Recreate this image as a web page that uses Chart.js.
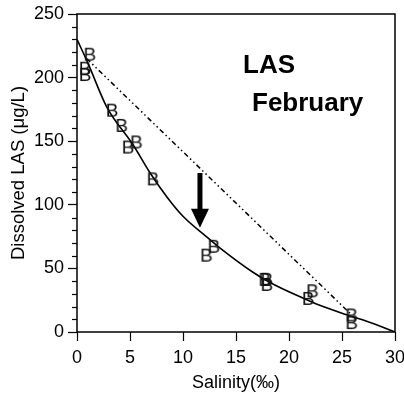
<!DOCTYPE html>
<html lang="en">
<head>
    <meta charset="UTF-8">
    <title>LAS February</title>
    <style>
        html, body { margin: 0; padding: 0; background: #fff; }
        #chartBox { width: 404px; height: 397px; }
    </style>
</head>
<body>
    <div id="chartBox">
        <canvas id="myChart" width="404" height="397"></canvas>
    </div>

    <script src="https://cdn.jsdelivr.net/npm/chart.js@4.4.0/dist/chart.umd.min.js"></script>
    <script>

        // measured samples (salinity, LAS)
        const sampleSalinity = [1.2, 0.75, 0.75, 3.3, 4.2, 4.8, 5.6, 7.15, 12.2, 12.9, 17.7, 17.9, 17.9, 21.8, 22.2, 25.9, 25.9];
        const sampleLAS = [218, 207, 202, 174, 162, 145, 149, 120, 60, 67, 41, 41, 37, 26, 32, 13, 7];

        // fitted curve
        const curveSalinity = [0, 1, 2.8, 5.3, 6.9, 8.5, 10, 12.2, 13.5, 16.6, 18.3, 21.3, 22.9, 25.5, 28, 30];
        const curveLAS = [230, 212, 177, 147, 125, 106, 91, 75, 66, 47, 38.5, 26.7, 21, 13.4, 6.5, 0];

        // dilution line
        const dilutionSalinity = [0.9, 25.9];
        const dilutionLAS = [215, 13.5];

        // arrow (salinity, top, tip)
        const arrowAt = [11.6, 125, 82];

        const xTicks = [0, 5, 10, 15, 20, 25, 30];
        const yTicks = [0, 50, 100, 150, 200, 250];

        const font = '"Liberation Sans", Arial, Helvetica, sans-serif';

        function toPoints(xs, ys) {
            return xs.map((x, i) => ({ x: x, y: ys[i] }));
        }

        // "B" symbol used as point marker
        function makeB() {
            const c = document.createElement('canvas');
            c.width = 16;
            c.height = 20;
            const g = c.getContext('2d');
            g.fillStyle = '#111';
            g.font = '19px ' + font;
            g.textAlign = 'center';
            g.textBaseline = 'middle';
            g.fillText('B', 8, 11);
            return c;
        }

        const extras = {
            id: 'extras',
            afterDraw(chart) {
                const ctx = chart.ctx;
                const a = chart.chartArea;
                const xs = chart.scales.x;
                const ys = chart.scales.y;
                ctx.save();

                // frame
                ctx.strokeStyle = '#000';
                ctx.lineWidth = 1.5;
                ctx.strokeRect(a.left, a.top, a.right - a.left, a.bottom - a.top);

                // minor ticks on y
                ctx.lineWidth = 1.2;
                for (let v = 10; v < 250; v += 10) {
                    if (v % 50 === 0) continue;
                    const py = Math.round(ys.getPixelForValue(v)) + 0.5;
                    ctx.beginPath();
                    ctx.moveTo(a.left - 5, py);
                    ctx.lineTo(a.left, py);
                    ctx.stroke();
                }

                // arrow
                const ax = xs.getPixelForValue(arrowAt[0]);
                const top = ys.getPixelForValue(arrowAt[1]);
                const tip = ys.getPixelForValue(arrowAt[2]);
                ctx.fillStyle = '#000';
                ctx.fillRect(ax - 2.5, top, 5, tip - top - 18);
                ctx.beginPath();
                ctx.moveTo(ax - 9, tip - 19);
                ctx.lineTo(ax + 9, tip - 19);
                ctx.lineTo(ax, tip);
                ctx.closePath();
                ctx.fill();

                // labels
                ctx.font = 'bold 26px ' + font;
                ctx.textBaseline = 'alphabetic';
                ctx.fillText('LAS', 243, 73);
                ctx.fillText('February', 252, 111);
                ctx.restore();
            }
        };

        function createChart() {
            const ctx = document.getElementById('myChart').getContext('2d');
            new Chart(ctx, {
                type: 'scatter',
                data: {
                    datasets: [
                        {
                            data: toPoints(sampleSalinity, sampleLAS),
                            pointStyle: makeB(),
                            pointRadius: 8,
                            showLine: false,
                            order: 0
                        },
                        {
                            data: toPoints(curveSalinity, curveLAS),
                            showLine: true,
                            borderColor: '#000',
                            borderWidth: 1.6,
                            pointRadius: 0,
                            cubicInterpolationMode: 'monotone',
                            order: 1
                        },
                        {
                            data: toPoints(dilutionSalinity, dilutionLAS),
                            showLine: true,
                            borderColor: '#000',
                            borderWidth: 1.5,
                            borderDash: [5, 3, 1.5, 3, 1.5, 3],
                            pointRadius: 0,
                            order: 2
                        }
                    ]
                },
                options: {
                    responsive: false,
                    animation: false,
                    layout: { padding: { left: 0, right: 8, top: 14, bottom: 0 } },
                    plugins: {
                        legend: { display: false },
                        tooltip: { enabled: false }
                    },
                    scales: {
                        x: {
                            type: 'linear',
                            min: 0,
                            max: 30,
                            afterBuildTicks: s => { s.ticks = xTicks.map(v => ({ value: v })); },
                            afterFit: s => { s.height = 65; s.paddingLeft = 0; s.paddingRight = 0; },
                            border: { display: false },
                            grid: { drawOnChartArea: false, tickLength: 9, tickColor: '#000', tickWidth: 1.2 },
                            ticks: { color: '#000', padding: 6, font: { family: font, size: 18 }, maxRotation: 0 },
                            title: {
                                display: true,
                                text: 'Salinity(‰)',
                                color: '#000',
                                font: { family: font, size: 18 },
                                padding: { top: 0, bottom: 3 }
                            }
                        },
                        y: {
                            min: 0,
                            max: 250,
                            afterBuildTicks: s => { s.ticks = yTicks.map(v => ({ value: v })); },
                            afterFit: s => { s.width = 77; s.paddingTop = 0; s.paddingBottom = 0; },
                            border: { display: false },
                            grid: { drawOnChartArea: false, tickLength: 9, tickColor: '#000', tickWidth: 1.2 },
                            ticks: { color: '#000', padding: 4, font: { family: font, size: 18 } },
                            title: {
                                display: true,
                                text: 'Dissolved LAS (μg/L)',
                                color: '#000',
                                font: { family: font, size: 18.5 },
                                padding: { top: 8, bottom: 0 }
                            }
                        }
                    }
                },
                plugins: [extras]
            });
        }

        createChart();

    </script>
</body>
</html>
